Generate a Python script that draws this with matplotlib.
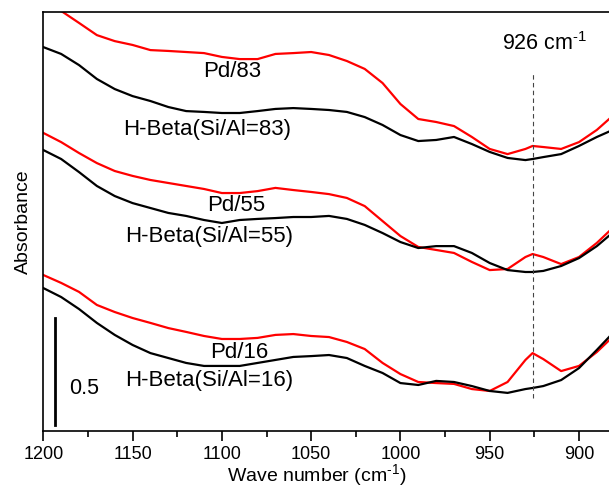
import matplotlib
matplotlib.use('Agg')
import matplotlib.pyplot as plt
from matplotlib.ticker import MultipleLocator

plt.rcParams['font.family'] = ['Liberation Sans', 'DejaVu Sans']
plt.rcParams['mathtext.fontset'] = 'custom'
plt.rcParams['mathtext.rm'] = 'Liberation Sans'

# wavenumber grid (cm-1)
wavenumber = [1200, 1190, 1180, 1170, 1160, 1150, 1140, 1130, 1120, 1110,
              1100, 1090, 1080, 1070, 1060, 1050, 1040, 1030, 1020, 1010,
              1000, 990, 980, 970, 960, 950, 940, 930, 926, 920,
              910, 900, 890, 880]

# stacked absorbance spectra (offset for display)
pd_83 = [2.023, 1.963, 1.907, 1.850, 1.822, 1.804, 1.780, 1.776, 1.771, 1.766,
         1.748, 1.738, 1.738, 1.762, 1.766, 1.771, 1.757, 1.729, 1.692, 1.626,
         1.528, 1.458, 1.444, 1.425, 1.374, 1.318, 1.294, 1.318, 1.332, 1.327,
         1.318, 1.350, 1.407, 1.481]
hbeta_83 = [1.794, 1.762, 1.710, 1.645, 1.598, 1.565, 1.542, 1.514, 1.495, 1.491,
            1.486, 1.486, 1.495, 1.505, 1.509, 1.505, 1.500, 1.491, 1.467, 1.430,
            1.383, 1.355, 1.360, 1.374, 1.341, 1.304, 1.276, 1.266, 1.271, 1.280,
            1.294, 1.332, 1.374, 1.411]
pd_55 = [1.393, 1.350, 1.299, 1.252, 1.215, 1.192, 1.173, 1.159, 1.145, 1.131,
         1.112, 1.112, 1.121, 1.136, 1.126, 1.117, 1.107, 1.089, 1.051, 0.981,
         0.911, 0.860, 0.846, 0.832, 0.790, 0.752, 0.757, 0.813, 0.827, 0.813,
         0.780, 0.813, 0.879, 0.958]
hbeta_55 = [1.313, 1.271, 1.210, 1.145, 1.098, 1.065, 1.042, 1.019, 1.005, 0.986,
            0.972, 0.986, 0.991, 0.995, 1.000, 1.000, 1.005, 0.991, 0.963, 0.925,
            0.883, 0.855, 0.864, 0.864, 0.832, 0.785, 0.752, 0.743, 0.743, 0.748,
            0.771, 0.808, 0.864, 0.935]
pd_16 = [0.729, 0.692, 0.650, 0.589, 0.556, 0.528, 0.505, 0.481, 0.463, 0.444,
         0.430, 0.430, 0.435, 0.449, 0.453, 0.444, 0.439, 0.416, 0.383, 0.318,
         0.266, 0.229, 0.224, 0.220, 0.196, 0.187, 0.229, 0.332, 0.364, 0.336,
         0.280, 0.304, 0.369, 0.449]
hbeta_16 = [0.668, 0.626, 0.570, 0.505, 0.449, 0.402, 0.364, 0.341, 0.318, 0.304,
            0.304, 0.304, 0.318, 0.332, 0.346, 0.350, 0.355, 0.341, 0.304, 0.271,
            0.224, 0.215, 0.234, 0.229, 0.210, 0.187, 0.178, 0.196, 0.201, 0.210,
            0.238, 0.294, 0.379, 0.467]

labels = ['Pd/83', 'H-Beta(Si/Al=83)', 'Pd/55', 'H-Beta(Si/Al=55)',
          'Pd/16', 'H-Beta(Si/Al=16)']
label_x = [1094, 1108, 1092, 1107, 1090, 1107]
label_y = [1.678, 1.407, 1.056, 0.911, 0.369, 0.238]

fig = plt.figure(figsize=(6.09, 4.92), dpi=100)
ax = fig.add_axes([0.0711, 0.124, 0.9289, 0.8516])

spectra = [pd_83, hbeta_83, pd_55, hbeta_55, pd_16, hbeta_16]
colors = ['red', 'black'] * 3
for s, c in zip(spectra, colors):
    ax.plot(wavenumber, s, color=c, lw=1.6, solid_joinstyle='round')

for t, x, y in zip(labels, label_x, label_y):
    ax.text(x, y, t, fontsize=16, ha='center', va='center')

# marker line for the Pd band
ax.plot([926, 926], [0.154, 1.673], color='#444444', lw=0.8, ls=(0, (4, 3)))
ax.text(919, 1.81, '926 cm$^{\\text{-1}}$', fontsize=15.5,
        ha='center', va='center')

# 0.5 absorbance scale bar
ax.plot([1193.4, 1193.4], [0.028, 0.528], color='black', lw=2)
ax.text(1177, 0.20, '0.5', fontsize=15.5, ha='center', va='center')

ax.set_xlim(1200, 883.2)
ax.set_ylim(0, 1.958)
ax.xaxis.set_major_locator(MultipleLocator(50))
ax.xaxis.set_minor_locator(MultipleLocator(25))
ax.tick_params(axis='x', which='major', direction='out', length=7, width=1.2,
               labelsize=13, pad=4)
ax.tick_params(axis='x', which='minor', direction='out', length=4, width=1.2)
ax.set_yticks([])
ax.spines['right'].set_visible(False)
for s in ['left', 'top', 'bottom']:
    ax.spines[s].set_linewidth(1.2)

ax.set_xlabel('Wave number (cm$^{\\text{-1}}$)', fontsize=14, labelpad=2)
ax.xaxis.set_label_coords(0.483, -0.075)
ax.set_ylabel('Absorbance', fontsize=14, labelpad=8)

fig.savefig('out.png', dpi=100)
